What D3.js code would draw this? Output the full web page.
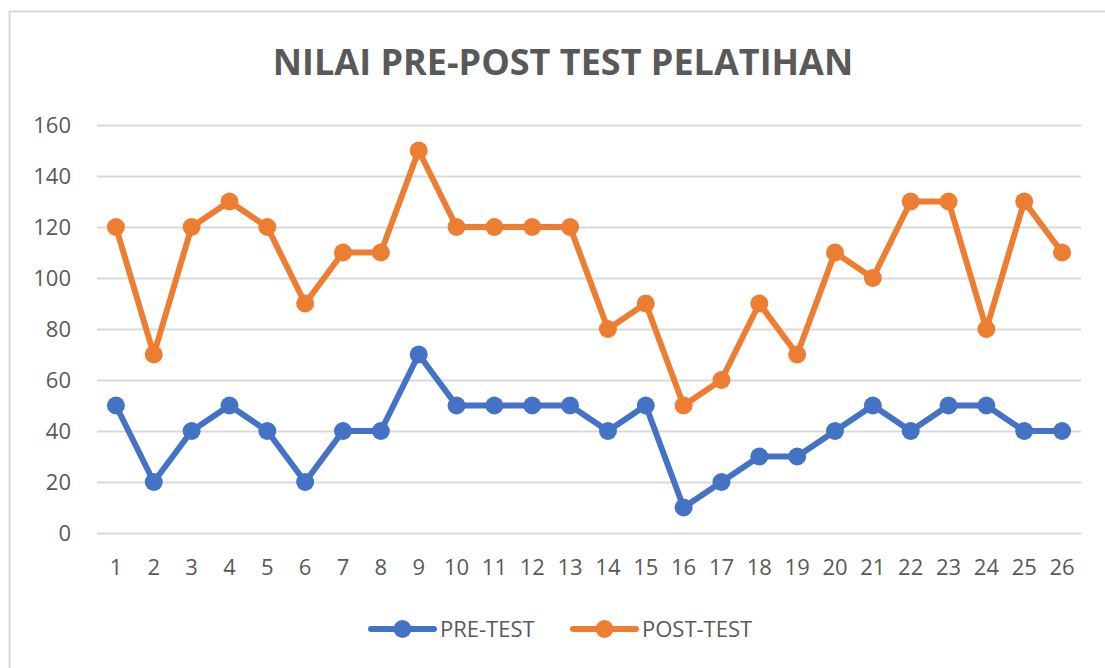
<!DOCTYPE html>
<html><head><meta charset="utf-8">
<script src="https://cdn.jsdelivr.net/npm/d3@7"></script>
<style>body{margin:0;background:#fff;} svg{display:block;}</style>
</head><body>
<svg id="chart" width="1105" height="668"></svg>
<script>
const categories = ["1","2","3","4","5","6","7","8","9","10","11","12","13","14","15","16","17","18","19","20","21","22","23","24","25","26"];
const preTest = [50,20,40,50,40,20,40,40,70,50,50,50,50,40,50,10,20,30,30,40,50,40,50,50,40,40];
const postTest = [120,70,120,130,120,90,110,110,150,120,120,120,120,80,90,50,60,90,70,110,100,130,130,80,130,110];
const yTicks = [0,20,40,60,80,100,120,140,160];
const seriesNames = ["PRE-TEST","POST-TEST"];
const colors = ["#4472C4","#ED7D31"];

const svg = d3.select("#chart");
const font = "Open Sans, sans-serif";
const textColor = "#595959";

svg.append("rect").attr("x",9.5).attr("y",11.5).attr("width",1110).attr("height",670)
  .attr("fill","#fff").attr("stroke","#d9d9d9").attr("stroke-width",2);

const x = d3.scaleBand().domain(categories).range([97,1081]);
const y = d3.scaleLinear().domain([0,160]).range([533,125]);

svg.append("text").attr("x",563).attr("y",75).attr("text-anchor","middle")
  .attr("font-family",font).attr("font-weight","bold").attr("font-size",36)
  .attr("fill",textColor).text("NILAI PRE-POST TEST PELATIHAN");

// gridlines
const yAxis = d3.axisLeft(y).tickValues(yTicks).tickSize(-(1081-97)).tickPadding(26);
const gy = svg.append("g").attr("transform","translate(97,0)").call(yAxis);
gy.select(".domain").remove();
gy.selectAll(".tick line").attr("stroke","#d9d9d9").attr("stroke-width",2);
gy.selectAll(".tick text").attr("font-family",font).attr("font-size",22).attr("fill",textColor);

const xAxis = d3.axisBottom(x).tickSize(0).tickPadding(26);
const gx = svg.append("g").attr("transform","translate(0,533)").call(xAxis);
gx.select(".domain").remove();
gx.selectAll(".tick text").attr("font-family",font).attr("font-size",22).attr("fill",textColor);

const series = [preTest, postTest];
series.forEach((vals,i)=>{
  const line = d3.line().x((d,j)=>x(categories[j])+x.bandwidth()/2).y(d=>y(d));
  svg.append("path").datum(vals).attr("d",line).attr("fill","none")
    .attr("stroke",colors[i]).attr("stroke-width",6).attr("stroke-linejoin","round");
  svg.append("g").selectAll("circle").data(vals).join("circle")
    .attr("cx",(d,j)=>x(categories[j])+x.bandwidth()/2).attr("cy",d=>y(d))
    .attr("r",9).attr("fill",colors[i]);
});

// legend
const legendX = [371,573];
seriesNames.forEach((n,i)=>{
  const g = svg.append("g").attr("transform",`translate(${legendX[i]},629)`);
  g.append("line").attr("x1",0).attr("x2",63).attr("stroke",colors[i]).attr("stroke-width",6).attr("stroke-linecap","round");
  g.append("circle").attr("cx",31.5).attr("r",9).attr("fill",colors[i]);
  g.append("text").attr("x",69).attr("y",8).attr("font-family",font).attr("font-size",22)
    .attr("fill",textColor).text(n);
});
</script>
</body></html>
